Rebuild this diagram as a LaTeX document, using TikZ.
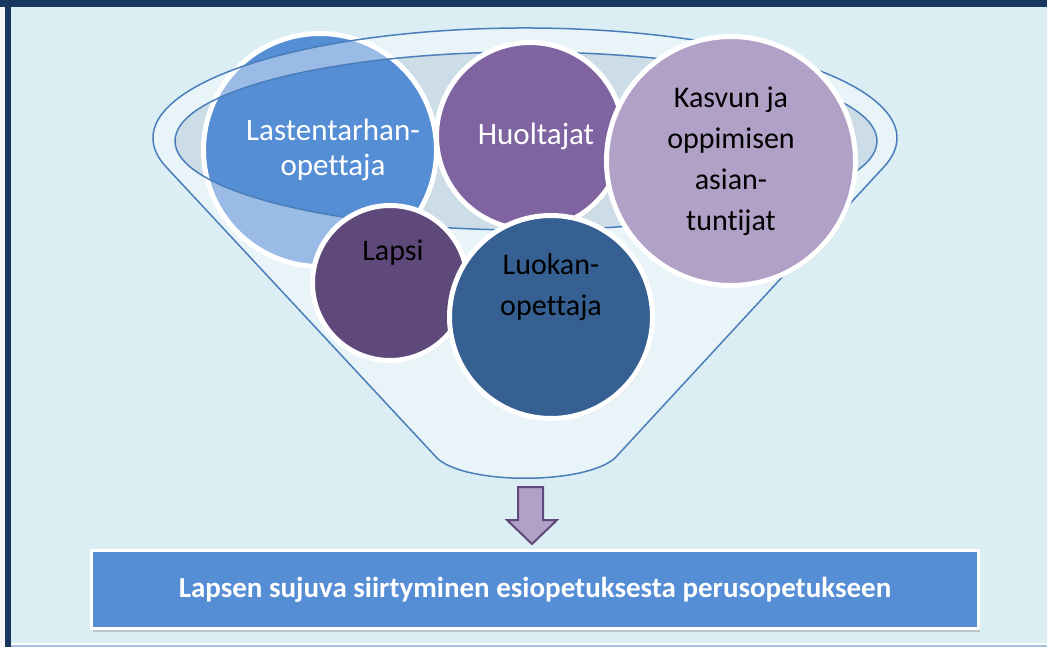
\documentclass[tikz,border=0pt]{standalone}
\usepackage{fontspec}
\setmainfont[Ligatures=NoCommon]{Carlito}
\usetikzlibrary{shadows}
\definecolor{slidebg}{HTML}{DBEEF4}
\definecolor{navy}{HTML}{17375E}
\definecolor{rimblue}{HTML}{4A7EBB}
\definecolor{ltoblue}{HTML}{558ED5}
\definecolor{huopurple}{HTML}{8064A2}
\definecolor{kasvlilac}{HTML}{B2A1C7}
\definecolor{lapspurple}{HTML}{5F497A}
\definecolor{luokblue}{HTML}{366092}
\definecolor{openingtint}{HTML}{CCDDE8}
\tikzset{
  ball/.style={circle, draw=white, line width=5pt, inner sep=0pt, align=center,
    drop shadow={shadow xshift=2pt, shadow yshift=-2pt, opacity=0.3}},
  whitetext/.style={text=white, align=center, font=\fontsize{31}{35}\selectfont},
  blacktext/.style={text=black, align=center, font=\fontsize{30}{41}\selectfont},
  rim/.style={draw=rimblue, line width=1.5pt},
  goalbox/.style={draw=white, line width=3pt, fill=ltoblue, text=white,
    font=\bfseries\fontsize{29}{33}\selectfont,
    drop shadow={shadow xshift=1pt, shadow yshift=-3pt, opacity=0.35}}
}
\begin{document}
\begin{tikzpicture}[x=1pt,y=-1pt]
\path[use as bounding box] (0,0) rectangle (1047,647);
% slide frame
\fill[slidebg] (0,0) rectangle (1047,647);
\fill[gray!8] (0,0) rectangle (5,647);
\fill[navy] (5,0) rectangle (11,647);
\fill[navy] (0,0) rectangle (1047,7);
\fill[white] (11,642.5) rectangle (1047,644.5);
\fill[rimblue!50] (11,644.5) rectangle (1047,647);
% funnel opening
\fill[openingtint] (526,141) ellipse[x radius=351, y radius=89];
\node[ball, fill=ltoblue, minimum size=233pt] (lto) at (320,150) {};
\node[whitetext] (ltotext) at ([xshift=13pt]lto.center) {Lastentarhan-\\opettaja};
% funnel body
\filldraw[fill=white, fill opacity=0.4, rim, even odd rule]
  (437,458) -- ([shift={(525,138)}]164.5:372 and 110)
  arc[start angle=164.5, end angle=375.5, x radius=372, y radius=110]
  -- (615,458) .. controls (585,485) and (465,485) .. (437,458) -- cycle
  (526,141) ellipse[x radius=351, y radius=89];
% people
\node[ball, fill=huopurple, minimum size=187pt, whitetext] (huo) at (530,136) {\hspace*{12pt}Huoltajat};
\node[ball, fill=kasvlilac, minimum size=249pt, blacktext] (kasv) at (731,161) {Kasvun ja\\oppimisen\\asian-\\tuntijat};
\node[ball, fill=lapspurple, minimum size=155pt] (lapsi) at (390,283) {};
\node[blacktext] (lapsitext) at ([xshift=3pt,yshift=30pt]lapsi.center) {Lapsi};
\node[ball, fill=luokblue, minimum size=203pt] (luok) at (551,317) {};
\node[blacktext] (luoktext) at ([yshift=30pt]luok.center) {Luokan-\\opettaja};
% result
\filldraw[fill=kasvlilac, draw=lapspurple, line width=2pt]
  (518,487) -- (543,487) -- (543,520) -- (557,520) -- (532,544) -- (507,520) -- (518,520) -- cycle;
\node[goalbox, minimum width=887pt, minimum height=78pt] (goal) at (535,589.5)
  {Lapsen sujuva siirtyminen esiopetuksesta perusopetukseen};
\end{tikzpicture}
\end{document}
